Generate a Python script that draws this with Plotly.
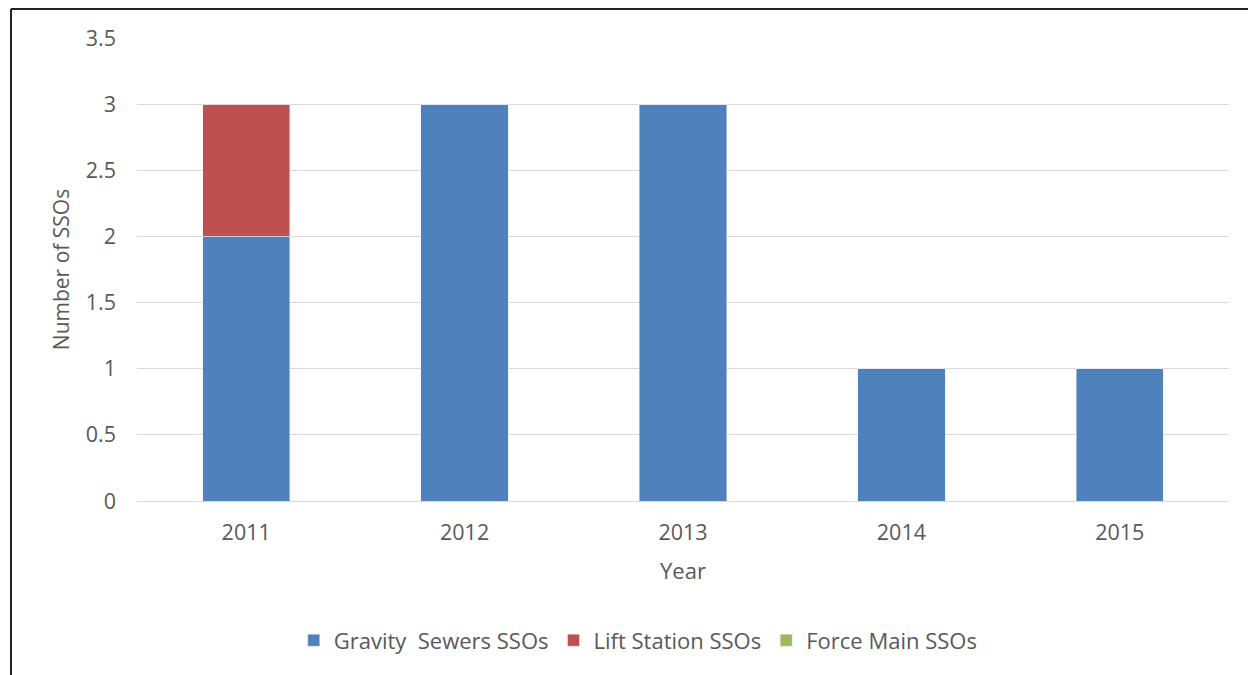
import plotly.graph_objects as go

years = ["2011", "2012", "2013", "2014", "2015"]
gravity = [2, 3, 3, 1, 1]
lift = [1, 0, 0, 0, 0]
force = [0, 0, 0, 0, 0]

font_family = "'Open Sans', 'Liberation Sans', sans-serif"
txt = "#595959"

fig = go.Figure()
fig.add_trace(go.Bar(x=years, y=gravity, name="Gravity&nbsp; Sewers SSOs", marker_color="#4F81BD"))
fig.add_trace(go.Bar(x=years, y=lift, name="Lift Station SSOs", marker_color="#C0504D"))
fig.add_trace(go.Bar(x=years, y=force, name="Force Main SSOs", marker_color="#9BBB59"))

fig.update_layout(
    width=1256, height=675,
    barmode="stack", bargap=0.6,
    paper_bgcolor="white", plot_bgcolor="white",
    margin=dict(l=129, r=35, t=30, b=182),
    font=dict(family=font_family, color=txt, size=21),
    legend=dict(orientation="h", x=0.459, xanchor="center", y=-0.301, yanchor="middle",
                font=dict(size=22, color=txt), itemwidth=30, traceorder="normal"),
    xaxis=dict(title=dict(text="Year", font=dict(size=22, color=txt), standoff=19),
               tickfont=dict(size=21.5, color=txt), showgrid=False, showline=False, ticks="",
               ticklabelstandoff=16),
    yaxis=dict(title=dict(text="Number of SSOs", font=dict(size=21, color=txt), standoff=10),
               range=[0, 3.5], dtick=0.5, tickfont=dict(size=21.5, color=txt),
               showgrid=True, gridcolor="#D9D9D9", gridwidth=1.3,
               zeroline=True, zerolinecolor="#D9D9D9", zerolinewidth=1.3, ticks="",
               ticklabelstandoff=20),
    shapes=[
        dict(type="line", xref="paper", yref="paper", x0=-0.1154, x1=1.05, y0=1.0626, y1=1.0626,
             line=dict(color="#222222", width=2)),
        dict(type="line", xref="paper", yref="paper", x0=-0.1154, x1=-0.1154, y0=1.0626, y1=-0.45,
             line=dict(color="#222222", width=2)),
    ],
)

fig.write_html("out.html")
